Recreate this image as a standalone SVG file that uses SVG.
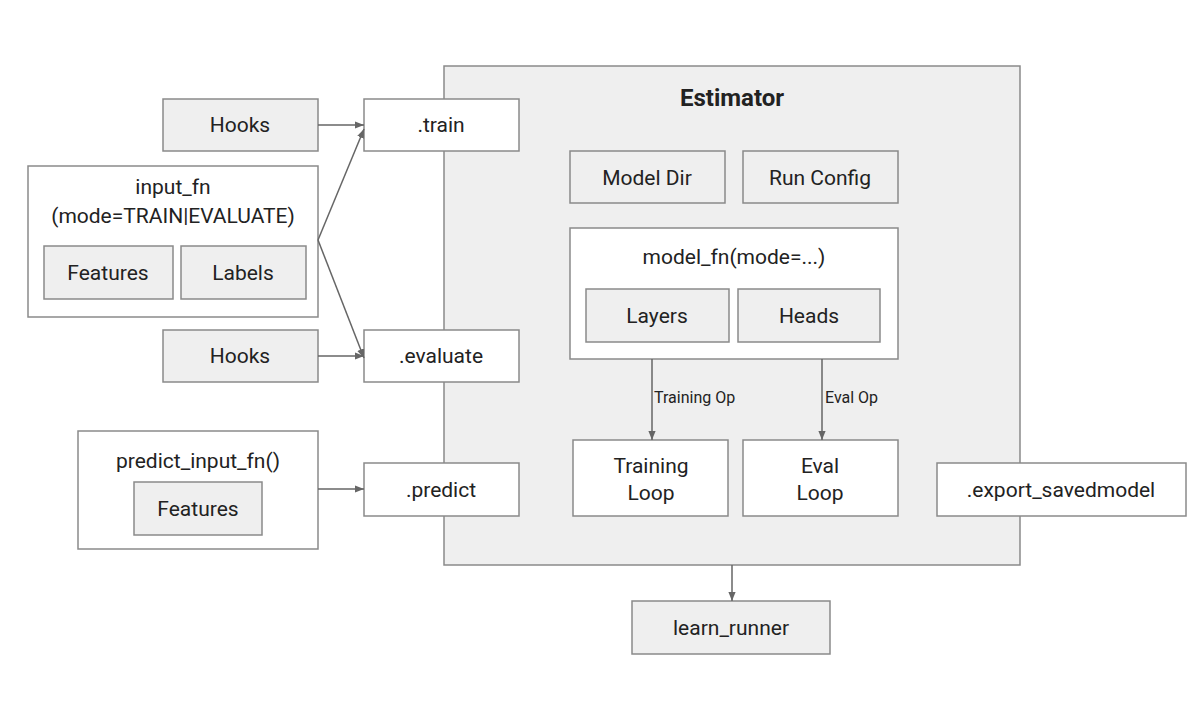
<svg xmlns="http://www.w3.org/2000/svg" width="1198" height="702" viewBox="0 0 1198 702">
<defs>
<marker id="ah" viewBox="0 0 10 10" refX="10" refY="5" markerWidth="9" markerHeight="9" markerUnits="userSpaceOnUse" orient="auto">
<path d="M0,1 L10,5 L0,9 Z" fill="#666"/>
</marker>
</defs>
<style>
.g{fill:#efefef;stroke:#8a8a8a;stroke-width:1.5}
.w{fill:#ffffff;stroke:#8a8a8a;stroke-width:1.5}
text{font-family:Roboto,"Liberation Sans",sans-serif;font-size:21px;fill:#222;text-anchor:middle}
.b{font-weight:bold;font-size:24px}
.s{font-size:16px;text-anchor:start}
.c{fill:none;stroke:#666;stroke-width:1.5;marker-end:url(#ah)}
</style>
<rect width="1198" height="702" fill="#fff"/>
<g id="estimator">
<rect class="g" x="444" y="66" width="576" height="499"/>
<text class="b" x="732" y="106">Estimator</text>
</g>
<g id="hooks1"><rect class="g" x="163" y="99" width="155" height="52"/><text x="240" y="132">Hooks</text></g>
<g id="train"><rect class="w" x="364" y="99" width="155" height="52"/><text x="441" y="132">.train</text></g>
<g id="input_fn">
<rect class="w" x="28" y="166" width="290" height="151"/>
<text x="173" y="194">input_fn</text>
<text x="173" y="223">(mode=TRAIN|EVALUATE)</text>
</g>
<g id="features1"><rect class="g" x="44" y="246" width="129" height="53"/><text x="108" y="280">Features</text></g>
<g id="labels"><rect class="g" x="181" y="246" width="125" height="53"/><text x="243" y="280">Labels</text></g>
<g id="hooks2"><rect class="g" x="163" y="330" width="155" height="52"/><text x="240" y="363">Hooks</text></g>
<g id="evaluate"><rect class="w" x="364" y="330" width="155" height="52"/><text x="441" y="363">.evaluate</text></g>
<g id="predict_input_fn">
<rect class="w" x="78" y="431" width="240" height="118"/>
<text x="198" y="468">predict_input_fn()</text>
</g>
<g id="features2"><rect class="g" x="134" y="482" width="128" height="53"/><text x="198" y="516">Features</text></g>
<g id="predict"><rect class="w" x="364" y="463" width="155" height="53"/><text x="441" y="497">.predict</text></g>
<g id="modeldir"><rect class="g" x="570" y="151" width="155" height="52"/><text x="647" y="185">Model Dir</text></g>
<g id="runconfig"><rect class="g" x="743" y="151" width="155" height="52"/><text x="820" y="185">Run Config</text></g>
<g id="model_fn">
<rect class="w" x="570" y="228" width="328" height="131"/>
<text x="734" y="264">model_fn(mode=...)</text>
</g>
<g id="layers"><rect class="g" x="586" y="289" width="143" height="53"/><text x="657" y="323">Layers</text></g>
<g id="heads"><rect class="g" x="738" y="289" width="142" height="53"/><text x="809" y="323">Heads</text></g>
<g id="trainingloop"><rect class="w" x="573" y="440" width="155" height="76"/><text x="651" y="473">Training</text><text x="651" y="500">Loop</text></g>
<g id="evalloop"><rect class="w" x="743" y="440" width="155" height="76"/><text x="820" y="473">Eval</text><text x="820" y="500">Loop</text></g>
<g id="export"><rect class="w" x="937" y="463" width="249" height="53"/><text x="1061" y="497">.export_savedmodel</text></g>
<g id="learn_runner"><rect class="g" x="632" y="601" width="198" height="53"/><text x="731" y="635">learn_runner</text></g>
<g id="connectors">
<line class="c" x1="318" y1="125" x2="364" y2="125"/>
<line class="c" x1="318" y1="356" x2="364" y2="356"/>
<line class="c" x1="318" y1="240" x2="364" y2="129"/>
<line class="c" x1="318" y1="240" x2="364" y2="358"/>
<line class="c" x1="318" y1="489" x2="364" y2="489"/>
<line class="c" x1="652" y1="359" x2="652" y2="440"/>
<line class="c" x1="822" y1="359" x2="822" y2="440"/>
<line class="c" x1="732" y1="565" x2="732" y2="601"/>
<text class="s" x="654" y="403">Training Op</text>
<text class="s" x="825" y="403">Eval Op</text>
</g>
</svg>
